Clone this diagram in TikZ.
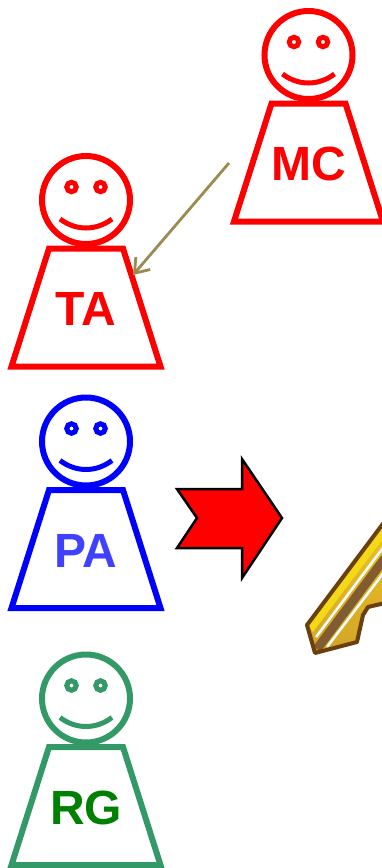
\documentclass[tikz,border=0pt]{standalone}
\usepackage{fontspec}
\setmainfont{Liberation Sans}
\usetikzlibrary{arrows.meta,calc}
\definecolor{rolered}{HTML}{FF0000}
\definecolor{roleblue}{HTML}{0000FF}
\definecolor{rolegreen}{HTML}{339966}
\definecolor{textblue}{HTML}{4040FF}
\definecolor{textgreen}{HTML}{008000}
\definecolor{linkolive}{HTML}{9C8B50}
\definecolor{keybrown}{HTML}{6B3F0C}
\definecolor{keygold}{HTML}{E8B52C}
\begin{document}
\begin{tikzpicture}[
  x=1pt, y=-1pt,
  head/.style={draw, circle, line width=6pt, minimum size=88pt, inner sep=0pt, outer sep=0pt},
  eye/.style={draw, circle, line width=5pt, minimum size=9.5pt, inner sep=0pt, fill=white},
  body/.style={line width=6pt, miter limit=10},
  role/.style={inner sep=0pt, font=\fontsize{48}{48}\selectfont\bfseries}]
\useasboundingbox (0,0) rectangle (381,868);
\foreach \name/\x/\y/\col/\txt/\lab in {
    mc/308.5/55/rolered/rolered/MC, ta/86/200/rolered/rolered/TA,
    pa/86/441.5/roleblue/textblue/PA, rg/86/698.5/rolegreen/textgreen/RG} {
  \node[head, draw=\col] (\name-head) at (\x,\y) {};
  \node[eye, draw=\col] (\name-eyel) at (\x-14.5,\y-13) {};
  \node[eye, draw=\col] (\name-eyer) at (\x+14.5,\y-13) {};
  \draw[\col, line width=5pt] (\x-26,\y+19) .. controls (\x-10,\y+31) and (\x+10,\y+31) .. (\x+26,\y+19);
  \draw[body, \col] (\x-37,\y+48.5) -- (\x+37,\y+48.5) -- (\x+74.5,\y+166.5) -- (\x-74.5,\y+166.5) -- cycle;
  \node[role, text=\txt] (\name) at (\x,\y+109) {\lab};
}
% red block arrow
\draw[fill=rolered, line width=2.5pt, miter limit=10]
  (177,489) -- (242,489) -- (242,459) -- (282,518) -- (242,578) -- (242,548)
  -- (177,548) -- (197,518) -- cycle;
% key, cut by the page edge
\begin{scope}
  \clip (307,625) -- (385,521) -- (385,603) -- (368,607) -- (363,615) -- (357,642) -- (315,653) -- cycle;
  \shade[top color=keygold!80!yellow, bottom color=keygold!90!black] (300,520) rectangle (385,660);
  \fill[keygold!50!yellow] (309,626) -- (385,525) -- (385,536) -- (313,632) -- cycle;
  \draw[white, line width=2.5pt] (316,637) -- (385,545);
  \draw[keybrown!85!white, line width=9pt] (317,649) -- (385,558);
  \draw[white, line width=2.5pt] (327,647) -- (385,571);
\end{scope}
\draw[keybrown, line width=4pt, line join=round]
  (385,521) -- (307,625) -- (315,653) -- (357,642) -- (363,615) -- (368,607) -- (385,603);
% link between the roles
\coordinate (linkstart) at ($(mc)+(-79.5,-1)$);
\coordinate (linkend) at ($(ta)+(47,-34)$);
\draw[linkolive, line width=2.8pt, -{Straight Barb[length=13pt,width=19pt]}] (linkstart) -- (linkend);
\end{tikzpicture}
\end{document}
